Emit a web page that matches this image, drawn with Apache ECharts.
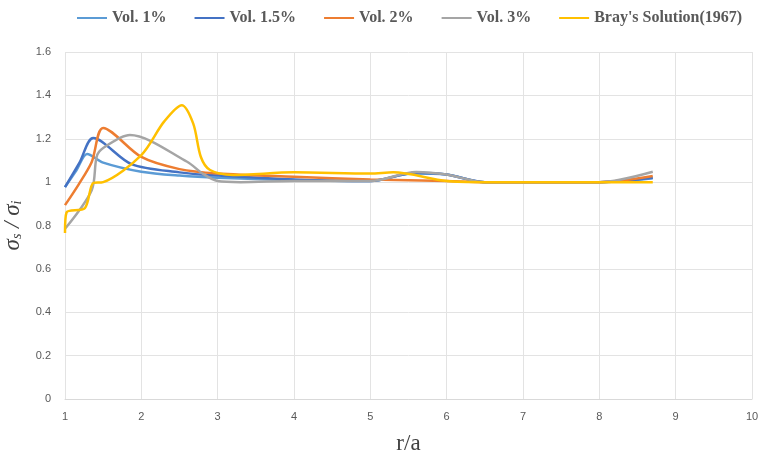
<!DOCTYPE html>
<html><head><meta charset="utf-8">
<script src="https://cdn.jsdelivr.net/npm/echarts@6/dist/echarts.min.js"></script>
<style>html,body{margin:0;padding:0;background:#fff}#c{width:762px;height:458px}</style>
</head><body><div id="c"></div>
<script>
const seriesNames = ["Vol. 1%", "Vol. 1.5%", "Vol. 2%", "Vol. 3%", "Bray's Solution(1967)"];
const vol1X = [1.0, 1.15, 1.29, 1.5, 2.0, 2.5, 3.0, 4.0, 5.0, 5.55, 6.0, 6.5, 7, 8, 8.7];
const vol1Y = [0.977, 1.055, 1.13, 1.09, 1.048, 1.03, 1.02, 1.01, 1.005, 1.04, 1.035, 1.0, 1.0, 1.0, 1.018];
const vol15X = [1.0, 1.19, 1.37, 1.87, 2.5, 3, 4, 5, 5.6, 6.0, 6.5, 7, 8, 8.7];
const vol15Y = [0.977, 1.09, 1.203, 1.083, 1.045, 1.03, 1.012, 1.005, 1.043, 1.035, 1.0, 1.0, 1.0, 1.02];
const vol2X = [1.0, 1.18, 1.35, 1.5, 2.0, 2.5, 3, 4, 5, 6, 6.5, 7, 8, 8.7];
const vol2Y = [0.894, 0.99, 1.093, 1.25, 1.116, 1.06, 1.04, 1.025, 1.012, 1.005, 1.0, 1.0, 1.0, 1.028];
const vol3X = [1.0, 1.35, 1.415, 1.5, 1.85, 2.6, 2.8, 3.0, 3.3, 4, 5, 5.6, 6, 6.5, 7, 8, 8.7];
const vol3Y = [0.785, 0.963, 1.117, 1.157, 1.217, 1.094, 1.04, 1.005, 1.0, 1.005, 1.005, 1.047, 1.035, 1.0, 1.0, 1.0, 1.048];
const brayX = [1.0, 1.02, 1.26, 1.37, 1.5, 2.0, 2.3, 2.53, 2.68, 2.78, 2.9, 3.2, 4.0, 5.0, 5.3, 6.0, 6.5, 7, 8, 8.7];
const brayY = [0.765, 0.86, 0.88, 0.996, 1.0, 1.125, 1.28, 1.355, 1.27, 1.116, 1.056, 1.033, 1.045, 1.04, 1.045, 1.005, 1.0, 1.0, 1.0, 1.0];
const xTicks = [1, 2, 3, 4, 5, 6, 7, 8, 9, 10];
const yTicks = [0, 0.2, 0.4, 0.6, 0.8, 1, 1.2, 1.4, 1.6];

const colors = ['#5B9BD5', '#4472C4', '#ED7D31', '#A5A5A5', '#FFC000'];
const xs = [vol1X, vol15X, vol2X, vol3X, brayX];
const ys = [vol1Y, vol15Y, vol2Y, vol3Y, brayY];
const pair = (X, Y) => X.map((x, i) => [x, Y[i]]);

const chart = echarts.init(document.getElementById('c'));
chart.setOption({
  animation: false,
  color: colors,
  legend: {
    top: 5, left: 72, itemGap: 28,
    icon: 'rect', itemWidth: 30, itemHeight: 2,
    textStyle: { fontFamily: 'Liberation Serif', fontWeight: 'bold', fontSize: 16, color: '#595959' },
    data: seriesNames
  },
  grid: { left: 65, right: 10, top: 52, bottom: 59, outerBoundsMode: 'none' },
  xAxis: {
    type: 'value', min: xTicks[0], max: xTicks[xTicks.length - 1], interval: 1,
    name: 'r/a', nameLocation: 'middle', nameGap: 33,
    nameTextStyle: { fontFamily: 'Liberation Serif', fontSize: 23, color: '#404040' },
    axisLine: { lineStyle: { color: '#d9d9d9' } },
    axisTick: { show: false },
    axisLabel: { color: '#595959', fontSize: 11, fontFamily: 'Liberation Sans Narrow, Liberation Sans', margin: 12 },
    splitLine: { lineStyle: { color: '#e3e3e3' } }
  },
  yAxis: {
    type: 'value', min: yTicks[0], max: yTicks[yTicks.length - 1], interval: 0.2,
    name: '{s|σ}{sub|s}{s| / σ}{sub|i}', nameLocation: 'middle', nameGap: 34,
    nameTextStyle: {
      rich: {
        s: { fontFamily: 'Liberation Serif', fontStyle: 'italic', fontSize: 23, color: '#404040' },
        sub: { fontFamily: 'Liberation Serif', fontStyle: 'italic', fontSize: 14, color: '#404040', padding: [10, 0, 0, 0] }
      }
    },
    axisLine: { show: false },
    axisTick: { show: false },
    axisLabel: { color: '#595959', fontSize: 11, fontFamily: 'Liberation Sans Narrow, Liberation Sans', margin: 14 },
    splitLine: { lineStyle: { color: '#e3e3e3' } }
  },
  series: seriesNames.map((n, i) => ({
    name: n, type: 'line', smooth: 0.3, showSymbol: false,
    lineStyle: { width: 2.5, color: colors[i] },
    data: pair(xs[i], ys[i])
  }))
});
</script></body></html>
